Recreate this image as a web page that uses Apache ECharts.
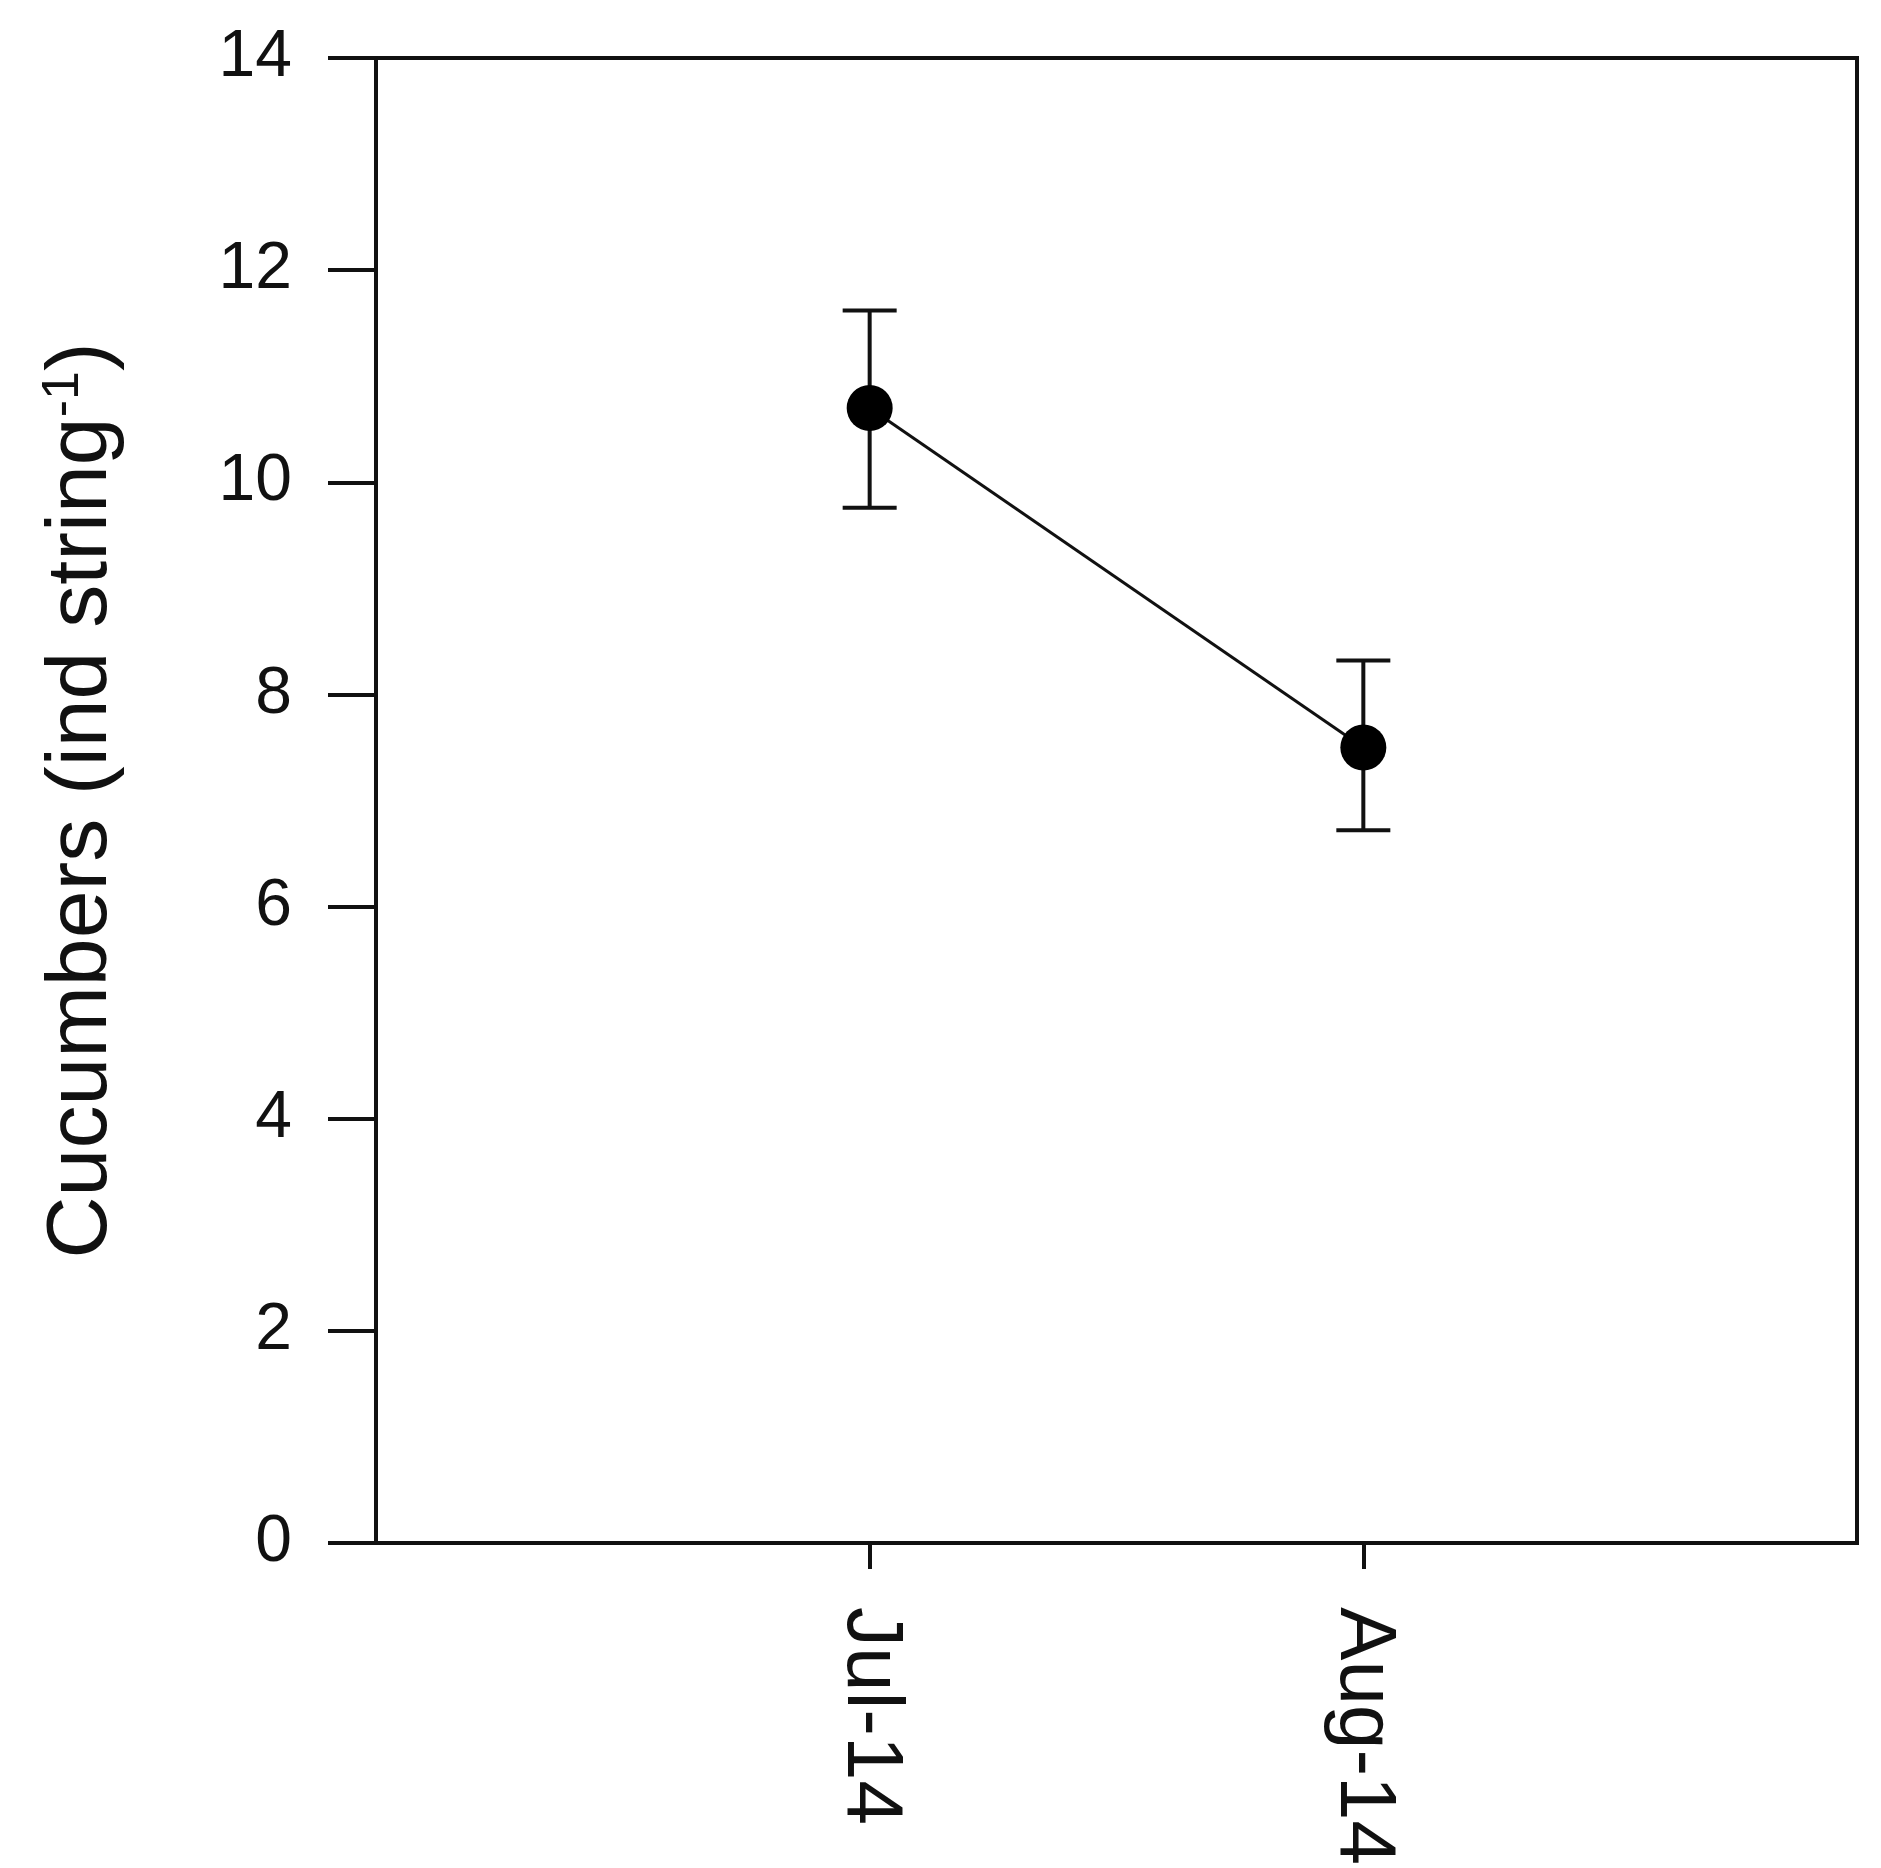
<!DOCTYPE html>
<html>
<head>
<meta charset="utf-8">
<script src="https://cdn.jsdelivr.net/npm/echarts@6/dist/echarts.min.js"></script>
<style>html,body{margin:0;padding:0;background:#fff}#chart{width:1881px;height:1868px}</style>
</head>
<body>
<div id="chart"></div>
<script>
/* Cucumbers per string, Jul vs Aug 2014 */
const months = ['Jul-14', 'Aug-14'];
const means = [10.7, 7.5];
const lower = [9.76, 6.72];
const upper = [11.62, 8.32];
const yTicks = [0, 2, 4, 6, 8, 10, 12, 14];

const chart = echarts.init(document.getElementById('chart'));
const font = 'Liberation Sans, Arial, sans-serif';
const idx = months.map((_, i) => i);

chart.setOption({
  backgroundColor: '#fff',
  animation: false,
  grid: { left: 376, right: 24, top: 58, bottom: 312, show: true, borderColor: '#111', borderWidth: 4 },
  xAxis: {
    type: 'value', min: -1, max: 2,
    axisLine: { show: true, onZero: false, lineStyle: { color: '#111', width: 4 } },
    splitLine: { show: false },
    axisTick: { show: true, customValues: idx, length: 26, inside: false, lineStyle: { color: '#111', width: 4 } },
    axisLabel: {
      customValues: idx, rotate: -90, margin: 64, color: '#111', fontSize: 80, fontFamily: font,
      formatter: v => months[Math.round(v)]
    }
  },
  yAxis: {
    type: 'value', min: 0, max: 14, interval: 2,
    name: '{a|Cucumbers (ind string}{s|-1}{a|)}',
    nameLocation: 'middle', nameGap: 250, nameRotate: 90,
    nameTextStyle: { rich: {
      a: { fontSize: 86, color: '#111', fontFamily: font },
      s: { fontSize: 52, color: '#111', fontFamily: font, verticalAlign: 'top', padding: [0, 0, 36, 0] }
    } },
    axisLine: { show: true, onZero: false, lineStyle: { color: '#111', width: 4 } },
    splitLine: { show: false },
    axisTick: { show: true, length: 48, lineStyle: { color: '#111', width: 4 } },
    axisLabel: { color: '#111', fontSize: 66, fontFamily: font, margin: 84,
      formatter: v => yTicks.includes(v) ? String(v) : '' }
  },
  series: [
    {
      type: 'custom',
      data: idx.map(i => [i, lower[i], upper[i]]),
      renderItem: (params, api) => {
        const lo = api.coord([api.value(0), api.value(1)]);
        const hi = api.coord([api.value(0), api.value(2)]);
        const w = 27;
        const st = { stroke: '#111', lineWidth: 4 };
        return { type: 'group', children: [
          { type: 'line', shape: { x1: lo[0], y1: lo[1], x2: hi[0], y2: hi[1] }, style: st },
          { type: 'line', shape: { x1: lo[0] - w, y1: lo[1], x2: lo[0] + w, y2: lo[1] }, style: st },
          { type: 'line', shape: { x1: hi[0] - w, y1: hi[1], x2: hi[0] + w, y2: hi[1] }, style: st }
        ] };
      },
      z: 2
    },
    {
      type: 'line',
      data: idx.map(i => [i, means[i]]),
      symbol: 'circle', symbolSize: 46,
      lineStyle: { color: '#111', width: 3 },
      itemStyle: { color: '#000' },
      z: 3
    }
  ]
});
</script>
</body>
</html>
